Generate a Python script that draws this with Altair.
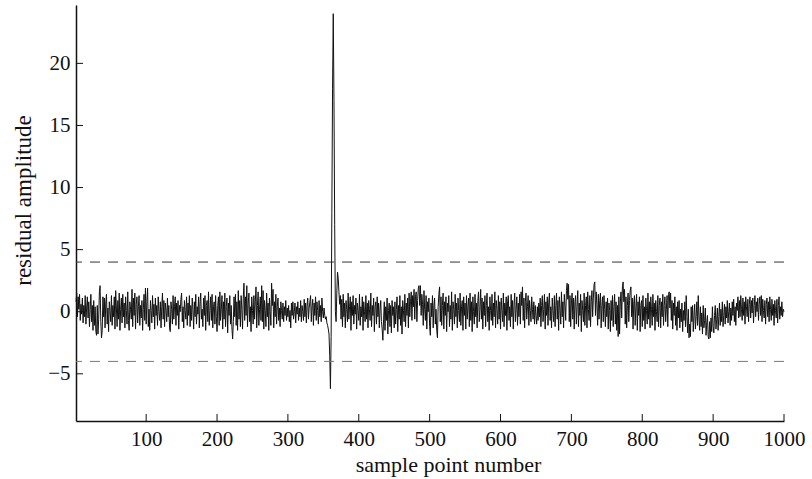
import altair as alt
import pandas as pd

# Residual values, samples 1..1000
residual = [
    0.8, 1.5, -0.4, 1.2, 0.2, 1.4, -0.7, 0.6, -0.2, 1.1, -0.9, 0.5, -0.4, 1.3, -1.0, 0.3, 1.2, -0.5, 0.8, -1.2, 0.2, 1.4, -0.8, 0.5, -1.5,
    0.9, -1.1, 0.4, -1.6, -1.9, 0.5, -1.8, -0.6, 1.6, 2.1, -0.8, -2.1, -1.5, 1.2, -0.4, 1.1, -1.3, 0.7, 1.4, -1.0, 0.3, -1.6, 0.8, 0.1, -0.8,
    1.3, -1.1, 0.5, -0.4, 1.2, -1.4, 1.7, 0.3, -1.2, 0.9, -0.6, 1.5, -1.5, 0.2, 1.1, -0.9, 1.4, -0.4, 0.7, -1.3, 1.2, 0.1, -1.0, 1.6, -0.7,
    -1.5, 0.8, 0.2, -0.6, 1.8, -1.2, 1.1, -0.3, 1.5, -1.4, 0.6, 1.2, -0.9, 0.4, 1.3, -1.1, 0.5, -0.5, 0.9, -1.5, 0.2, 1.4, -0.7, 1.9, -1.0,
    0.8, 1.9, -1.2, 0.2, -1.5, 0.9, 0.1, -0.9, 1.3, -0.4, 0.6, -1.4, 1.1, -0.3, 0.5, -1.1, 1.2, 0.0, -0.7, 0.8, -1.3, 0.4, 1.5, -0.6, 0.9,
    -1.2, 0.7, 0.1, -0.8, 1.1, -0.4, 0.5, -1.3, -1.6, 0.8, 0.2, -1.0, 1.3, -0.6, 0.4, 1.2, -1.1, 0.7, -0.3, 0.9, -1.4, 0.5, 0.0, 1.0, 1.5,
    -0.8, 0.4, -1.3, 0.9, 0.1, -0.6, 1.2, -1.1, 0.7, -0.3, 1.3, -1.2, 0.5, -0.7, 1.1, 0.2, -1.4, 0.8, -0.4, 1.4, -1.0, 0.4, -0.2, 1.2, -1.3,
    0.7, 1.5, -0.6, 0.2, -1.2, 1.1, -0.3, 1.3, -1.5, 0.5, 0.9, -0.8, 1.6, -1.1, 0.1, 1.2, -0.7, 1.4, -1.3, 0.4, 0.8, -1.0, 1.3, -0.4, -1.6,
    0.5, 1.2, -1.1, 1.6, -0.7, 0.2, 1.3, -1.4, 0.8, -0.6, 1.5, -1.2, 0.4, 1.1, -1.7, 0.7, -0.3, 1.3, -1.0, 0.5, -1.3, -2.2, -0.8, 1.2, -0.4,
    1.4, -1.1, 0.8, -1.5, 1.7, -0.6, 0.9, -1.2, 1.3, 0.2, -1.4, 1.1, 2.3, -0.7, 1.2, -0.3, 2.1, -1.2, 0.7, 1.5, -0.8, 0.4, -1.6, 1.2, 0.1,
    -1.0, 1.3, -0.6, 0.8, 2.0, -1.3, 0.5, 1.6, -1.1, 0.2, 1.2, -0.7, 2.1, -0.8, 1.7, -1.4, 0.9, 0.1, -1.2, 1.5, -0.4, 0.7, -1.5, 1.1, 0.0,
    -1.1, 2.3, 0.5, 1.8, -1.3, 0.8, -0.4, 1.4, -1.0, 0.4, 1.1, -0.7, 0.3, -1.2, 0.8, 0.1, -0.6, 0.7, -0.8, 0.4, -0.3, 0.9, -0.7, 0.3, -0.4,
    0.5, -0.8, 0.1, -1.3, 0.7, -0.3, 0.8, -0.6, 0.0, 0.7, -0.9, 0.4, -0.2, 0.8, -0.7, 0.3, -0.4, 0.9, -0.8, 0.5, 0.0, -0.7, 1.0, -0.4, 0.7,
    -0.9, 0.5, 1.1, -0.6, 0.3, 0.8, 1.3, -0.8, 0.4, 1.0, -1.1, 0.7, -0.3, 1.2, -0.7, 0.8, 0.1, -1.0, 0.9, -0.4, 0.5, -0.8, 1.1, 0.0, -0.5,
    0.3, -0.3, -0.6, -0.4, -0.9, -1.1, -1.4, -1.8, -3.5, -6.2, -2.0, 8.0, 18.0, 24.0, 17.0, 7.0, 0.0, -0.8, 1.5, 3.2, 2.7, 1.6, 0.6, 1.3, -0.6,
    1.0, -1.2, 1.4, -0.4, 0.7, -1.3, 0.9, 0.2, -0.8, 1.5, -0.6, 0.4, 1.2, -1.5, 0.8, -0.3, 1.3, -1.0, 0.5, -0.2, 1.1, -1.4, 0.7, 0.1, -0.7,
    1.4, -1.1, 0.4, -0.4, 1.2, -1.5, 0.8, 0.0, -0.8, 1.3, -0.6, 0.7, -1.3, 0.9, 0.2, -0.7, 1.5, -1.2, 0.5, -0.3, 1.1, -1.6, 0.4, 0.8, -1.0,
    1.2, -0.4, 0.7, -1.3, 0.2, 0.9, -0.8, -1.4, -2.3, -0.6, 0.8, -1.5, 0.4, -0.7, 1.1, -1.8, 0.1, 0.7, -1.2, 0.5, -1.7, 0.9, -0.3, 0.4, -1.3,
    0.8, -1.0, 0.2, 1.2, -1.6, 0.5, -0.6, 1.3, -1.1, 0.4, -1.8, 0.9, 0.1, -0.8, 1.4, -1.2, 0.7, -0.3, 1.1, -1.3, 1.5, -0.4, 0.8, 1.6, -0.7,
    1.3, 0.4, 1.8, -0.6, 1.2, 1.6, -0.8, 0.9, 1.9, 2.1, 0.5, 2.1, -0.3, 1.4, 0.6, -1.1, 1.7, 0.2, -0.7, 1.3, -1.4, 0.8, 0.0, 1.1, -1.2,
    -1.9, 0.7, -0.4, 1.3, -1.3, 0.5, 1.1, -1.0, 0.2, -1.5, -2.1, 0.4, 1.4, 2.0, -0.8, 1.2, -1.1, 0.5, 1.5, -1.4, 0.8, -0.3, 1.2, -1.6, 0.7,
    0.0, 1.3, -1.2, 0.5, -0.6, 1.6, -1.5, 0.8, 0.2, -1.0, 1.4, -0.4, 0.7, -1.3, 1.1, 0.1, -0.8, 1.5, -1.1, 0.4, 0.9, -1.5, 1.2, -0.3, 0.7,
    -1.4, 1.3, -0.6, 0.4, 1.1, -1.2, 1.5, -0.7, 0.8, -1.6, 1.2, 0.0, -1.0, 1.4, -0.4, 0.7, -1.3, 0.9, 1.6, -0.8, 0.2, 1.8, -0.6, 1.1, -1.4,
    0.8, -0.3, 1.3, -1.2, 0.5, 1.5, -0.8, 0.4, -1.5, 1.2, 0.1, -0.7, 1.4, -1.1, 0.7, -0.4, 1.6, -1.3, 0.9, 0.2, -1.0, 1.3, -0.6, 0.8, -1.4,
    1.1, 0.1, -0.8, 1.5, -1.2, 0.7, -0.3, 1.2, -1.5, 0.8, 1.3, -0.7, 0.4, -1.2, 1.4, -0.4, 0.9, -1.4, 0.5, 1.5, -0.8, 0.2, 1.2, -1.1, 0.7,
    -0.4, 1.4, -1.0, 1.6, 0.5, 2.0, -0.7, 1.1, -1.3, 0.8, 1.5, -0.6, 0.4, 1.3, -1.1, 0.9, 0.1, -0.8, 1.2, 0.2, -0.6, 0.8, -1.0, 0.5, -0.3,
    -1.0, 0.4, -0.7, 0.7, -0.4, 1.1, -1.2, 0.5, 1.3, -0.8, 0.2, 1.4, -1.4, 0.8, -0.3, 1.2, -1.1, 0.7, 1.5, -0.7, 0.4, -1.3, 1.1, 0.1, -0.8,
    1.3, -1.2, 0.5, 1.5, -0.6, 0.9, -1.5, 1.2, 0.2, -1.0, 1.6, -0.4, 0.8, -1.3, 1.4, 0.5, -0.7, 1.7, 2.3, 1.0, 2.2, -0.8, 1.3, -1.2, 0.7,
    1.5, -0.6, 1.1, -1.4, 0.8, 1.3, -1.0, 0.4, 1.7, -1.2, 0.7, -0.3, 1.4, -1.6, 0.9, 0.1, -0.8, 1.5, -1.1, 0.5, 1.2, -1.3, 1.6, 0.2, -0.7,
    1.3, -1.2, 0.8, 1.7, -0.4, 1.1, 2.2, 2.4, -0.3, 1.6, 0.6, -1.1, 1.4, -0.6, 0.9, 1.5, -1.3, 0.5, 1.2, -0.8, 1.3, 0.2, -1.2, 0.8, -0.4,
    1.1, -1.4, 0.7, 0.1, -1.6, 0.9, -0.7, 1.3, -1.2, 0.4, 1.4, -1.0, 0.8, -1.5, 0.5, -2.0, 1.2, -1.8, 0.7, 1.6, -0.5, 2.0, 2.4, 0.8, 1.8,
    -1.0, 1.2, -1.3, 0.5, 1.5, -0.8, 0.9, 1.7, 2.0, -0.4, 1.1, -1.4, 0.7, 1.3, -1.1, 0.4, 1.4, -1.5, 0.8, -0.3, 1.2, -1.6, 0.5, 0.9, -1.2,
    1.3, -0.7, 0.4, -1.4, 1.1, 0.1, -1.0, 1.5, -0.6, 0.8, -1.3, 1.2, 0.2, -1.1, 1.4, -0.4, 0.7, -1.5, 0.9, 0.0, -0.8, 1.3, -1.2, 0.5, 1.1,
    -1.3, 0.8, -0.4, 1.4, -1.1, 0.5, 1.2, -0.8, 0.2, 1.3, -1.2, 1.4, 1.6, 0.3, 1.5, -0.7, 0.9, -1.4, 0.7, -0.3, 1.2, -1.1, 0.4, -1.5, 0.8,
    -0.5, 0.9, -1.3, 0.2, -0.8, 0.7, -1.6, 0.1, -0.7, 0.8, -1.2, 1.3, -0.4, -1.7, 0.2, -2.1, -1.0, -2.0, 0.4, -0.8, 0.5, -1.6, -0.3, 0.6, -1.4,
    -0.4, 0.8, -1.1, 1.3, -0.5, -1.5, 0.4, -1.2, -0.1, -1.8, 0.5, -1.3, -0.7, 0.3, -1.9, -0.9, -0.3, -2.0, -2.2, -0.8, -2.1, -0.5, -1.6, 0.4, -1.2,
    -1.7, -0.3, 0.5, -1.4, -0.6, 0.3, -1.5, -0.4, 0.7, -1.1, 0.2, -0.8, 0.8, -1.2, -0.3, 0.6, -1.0, 0.4, -0.5, 0.9, -0.9, 0.0, 0.7, -1.1, 0.3,
    -0.7, 0.8, -0.3, 1.0, -0.8, 0.4, -1.1, 0.7, 0.1, 1.2, -0.5, 0.9, -0.4, 1.3, 0.2, -0.7, 1.1, -0.3, 0.8, -1.0, 1.2, 0.4, -0.4, 1.0, -0.8,
    0.6, 1.2, -0.5, 0.9, -0.1, 1.1, -0.9, 0.5, 1.3, -0.4, 0.8, 0.0, 1.1, -0.7, 0.6, 1.2, -0.3, 1.3, -0.8, 1.0, 0.1, -0.5, 0.9, -1.0, 0.6,
    1.1, -0.4, 0.8, -0.8, 1.2, 0.2, -0.7, 1.0, -0.3, 0.6, -1.1, 0.9, 0.1, -0.5, 1.0, -0.9, 0.5, 1.2, -0.6, 0.4, -0.3, 0.8, -0.4, 0.2, 0.0,
]
samples = list(range(1, len(residual) + 1))

thresholds_upper = [4]
thresholds_lower = [-4]
x_ticks = [100, 200, 300, 400, 500, 600, 700, 800, 900, 1000]
y_ticks = [-5, 0, 5, 10, 15, 20]

W, H = 708, 416
FONT = "Liberation Serif"
INK = "#111111"

df = pd.DataFrame({"n": samples, "r": residual})

xscale = alt.Scale(domain=[1, 1000], nice=False, zero=False)
yscale = alt.Scale(domain=[-8.8, 24.7], nice=False, zero=False)

xaxis = alt.Axis(values=x_ticks, format="d", title="sample point number", grid=False,
                 tickSize=0, labelPadding=7, domainColor=INK,
                 domainWidth=1.5, labelFont=FONT, labelFontSize=21,
                 labelColor=INK, titleFont=FONT, titleFontSize=22,
                 titleFontWeight="normal", titleColor=INK,
                 titleX=372, titleY=50, titleBaseline="alphabetic",
                 labelFlush=False)
yaxis = alt.Axis(values=y_ticks, format="d", title="residual amplitude", grid=False,
                 tickSize=0, labelPadding=6, domainColor=INK,
                 domainWidth=1.5, labelFont=FONT, labelFontSize=21,
                 labelColor=INK, titleFont=FONT, titleFontSize=23,
                 titleFontWeight="normal", titleColor=INK,
                 titleX=-53, titleY=195, titleBaseline="middle",
                 labelFlush=False)

line = alt.Chart(df).mark_line(color=INK, strokeWidth=1.0).encode(
    x=alt.X("n:Q", scale=xscale, axis=xaxis),
    y=alt.Y("r:Q", scale=yscale, axis=yaxis),
)

upper = alt.Chart(pd.DataFrame({"h": thresholds_upper})).mark_rule(
    color="#333333", strokeWidth=1, strokeDash=[10, 8]
).encode(y=alt.Y("h:Q", scale=yscale, axis=yaxis))

lower = alt.Chart(pd.DataFrame({"h": thresholds_lower})).mark_rule(
    color="#777777", strokeWidth=1, strokeDash=[10, 8]
).encode(y=alt.Y("h:Q", scale=yscale, axis=yaxis))

yt = alt.Chart(pd.DataFrame({"t": y_ticks})).mark_rule(color=INK, strokeWidth=1).encode(
    y=alt.Y("t:Q", scale=yscale, axis=yaxis), x=alt.value(0), x2=alt.value(7)
)
xt = alt.Chart(pd.DataFrame({"t": x_ticks})).mark_rule(color=INK, strokeWidth=1).encode(
    x=alt.X("t:Q", scale=xscale, axis=xaxis), y=alt.value(H), y2=alt.value(H - 7)
)

chart = alt.layer(line, upper, lower, yt, xt).properties(
    width=W, height=H,
    autosize=alt.AutoSizeParams(type="none"),
    padding={"left": 76, "top": 5, "right": 28, "bottom": 58},
    background="white",
).configure_view(strokeWidth=0)

chart.save("out.html", embed_options={"renderer": "svg", "actions": False})
